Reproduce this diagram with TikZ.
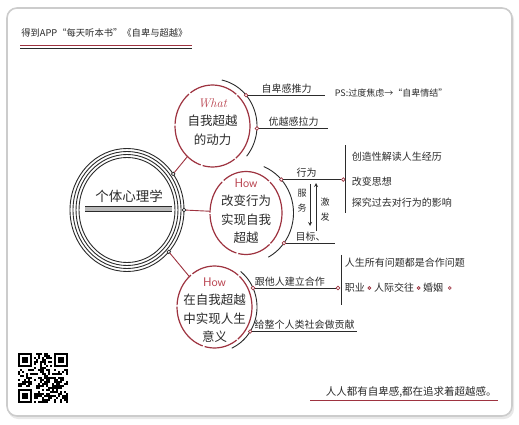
\documentclass[tikz,border=0pt]{standalone}
\usepackage{fontspec}
\newfontfamily\cjk{Noto Sans CJK SC}
\usetikzlibrary{arrows,positioning,shapes.geometric}
\definecolor{maroon}{HTML}{9E3340}
\definecolor{howred}{HTML}{B8404C}
\definecolor{ink}{HTML}{2B2B2B}
\tikzset{
  ring/.style={ellipse,draw=maroon,line width=1.2pt,dash pattern=on 34pt off 1.5pt on 50pt off 2pt,inner sep=0,outer sep=0},
  ringtext/.style={align=center,text=ink,font=\cjk\fontsize{12.5}{18.5}\selectfont},
  hubdot/.style={circle,draw=ink,fill=white,inner sep=0,minimum size=3.6pt,line width=0.7pt},
  knot/.style={circle,draw=maroon,fill=white,inner sep=0,minimum size=3.6pt,line width=0.7pt},
  dotred/.style={circle,draw=maroon,fill=maroon!25,inner sep=0,minimum size=3pt,line width=0.6pt},
  leaf/.style={font=\cjk\fontsize{10}{12}\selectfont,text=ink,inner sep=1.5pt},
  twig/.style={ink,line width=0.8pt},
  shell/.style={ink,line width=0.9pt}
}
\begin{document}
\begin{tikzpicture}[x=1pt,y=-1pt,semithick]
\useasboundingbox (0,0) rectangle (519,425);
\fill[gray!18,rounded corners=10pt] (8,10) rectangle (514,419);
\draw[gray!40,line width=1.6pt,fill=white,rounded corners=10pt] (7,8) rectangle (512,416);
\node[anchor=west,font=\cjk\fontsize{9.3}{10}\selectfont,text=ink,inner sep=0] (title) at (21,33) {得到APP“每天听本书”《自卑与超越》};
\draw[maroon,line width=1.4pt] (20,45.5)--(192,45.5);
\draw[ink,line width=0.8pt] (20,48.5)--(192,48.5);
\node[ellipse,minimum width=114pt,minimum height=123pt,inner sep=0,outer sep=0] (psy) at (127,210) {};
\foreach \a/\b in {57/61.5,54/58.5,51/55.5,48/52.5} \draw[shell] (psy.center) ellipse (\a pt and \b pt);
\node[font=\cjk\fontsize{13.5}{14}\selectfont,text=ink] (psyt) at (129,196) {个体心理学};
\fill[gray!55] (85,206) rectangle (172,211);
\draw[ink,line width=0.7pt] (85,206)--(172,206) (85,211)--(172,211);
\node[ring,minimum width=75pt,minimum height=82pt] (what) at (212.5,126) {};
\node[ringtext] (whatt) at (212.5,122) {{\rmfamily\itshape\color{howred}What}\\自我超越\\的动力};
\node[ring,minimum width=72pt,minimum height=83pt] (how) at (246,213) {};
\node[ringtext] (howt) at (246,211) {{\sffamily\color{howred}How}\\改变行为\\实现自我\\超越};
\node[ring,minimum width=75pt,minimum height=82pt] (mean) at (214.5,307) {};
\node[ringtext] (meant) at (214.5,310) {{\sffamily\color{howred}How}\\在自我超越\\中实现人生\\意义};
\draw[maroon,line width=0.9pt] (psy.38)--(what) (psy.0)--(how) (psy.-45)--(mean);
\node[hubdot] (c1) at (psy.38) {};
\node[hubdot] (c2) at (psy.0) {};
\node[hubdot] (c3) at (psy.-45) {};
\draw[shell,shift={(what.center)}] plot[domain=-40:78,samples=40,smooth] ({44.5*cos(\x)},{-47*sin(\x)});
\draw[shell,shift={(how.center)}] plot[domain=-62:68,samples=40,smooth] ({47.5*cos(\x)},{-50*sin(\x)});
\draw[shell,shift={(mean.center)}] plot[domain=-66:52,samples=40,smooth] ({42.5*cos(\x)},{-45*sin(\x)});
\node[knot] (w1) at ([shift={(41:44.5pt and 47pt)}]what.center) {};
\node[knot] (w2) at ([shift={(-3:44.5pt and 47pt)}]what.center) {};
\node[knot] (h1) at ([shift={(42:47.5pt and 50pt)}]how.center) {};
\node[knot] (h2) at ([shift={(-37:47.5pt and 50pt)}]how.center) {};
\node[knot] (m1) at ([shift={(25:42.5pt and 45pt)}]mean.center) {};
\node[knot] (m2) at ([shift={(-33:42.5pt and 45pt)}]mean.center) {};
\draw[twig] (w1) -- node[leaf,above]{自卑感推力} ++(79,0);
\draw[twig] (w2) -- node[leaf,above]{优越感拉力} ++(71,0);
\node[leaf,anchor=west,font=\cjk\fontsize{9}{10}\selectfont] (ps) at (333,93) {PS:过度焦虑→“自卑情结”};
\node[knot] (h0) at ([xshift=62pt]h1.center) {};
\draw[twig] (h1) -- node[leaf,above,pos=.4]{行为} (h0);
\draw[twig] ([xshift=2pt,yshift=34.5pt]h0.center) -- ([xshift=2pt,yshift=-33.5pt]h0.center);
\node[leaf,anchor=west] (h0a) at (350,157) {创造性解读人生经历};
\node[leaf,anchor=west] (h0b) at (350,182) {改变思想};
\node[leaf,anchor=west] (h0c) at (350,203) {探究过去对行为的影响};
\draw[twig] (h2) -- node[leaf,above]{目标、} ++(51,0);
\coordinate (s1) at (310,184);
\coordinate (s2) at (310,226);
\coordinate (s3) at (316,231);
\coordinate (s4) at (316,183);
\draw[twig,-stealth] (s1) -- (s2);
\draw[twig,-stealth] (s3) -- (s4);
\node[leaf,align=center,font=\cjk\fontsize{9}{15}\selectfont] (serve) at (302,200.5) {服\\务};
\node[leaf,align=center,font=\cjk\fontsize{9}{15}\selectfont] (spark) at (325,209.5) {激\\发};
\node[knot] (m0) at ([xshift=85pt]m1.center) {};
\draw[twig] (m1) -- node[leaf,above,pos=.43]{跟他人建立合作} (m0);
\draw[twig] ([xshift=3pt,yshift=33pt]m0.center) -- ([xshift=3pt,yshift=-17pt]m0.center);
\node[leaf,anchor=west] (m0a) at (343,263) {人生所有问题都是合作问题};
\node[leaf,anchor=west] (job) at (343,288) {职业};
\node[dotred,right=1pt of job] (d1) {};
\node[leaf,right=1pt of d1] (soc) {人际交往};
\node[dotred,right=1pt of soc] (d2) {};
\node[leaf,right=1pt of d2] (mar) {婚姻};
\node[dotred,right=3pt of mar] (d3) {};
\draw[twig] (m2) -- node[leaf,above]{给整个人类社会做贡献} ++(107,0);
\pgfmathsetseed{17}
\foreach \i in {0,...,24}{\foreach \j in {0,...,24}{
  \pgfmathsetmacro\q{rnd}
  \ifdim\q pt<0.5pt \fill[black] (18+2*\i,353+2*\j) rectangle ++(2,2);\fi}}
\foreach \fx/\fy in {18/353,52/353,18/387}{
  \fill[white] (\fx,\fy) rectangle ++(16,16);}
\foreach \fx/\fy in {18/353,54/353,18/389}{
  \fill[black] (\fx,\fy) rectangle ++(14,14);
  \fill[white] (\fx+2,\fy+2) rectangle ++(10,10);
  \fill[black] (\fx+4,\fy+4) rectangle ++(6,6);}
\node[anchor=east,font=\cjk\fontsize{10.5}{12}\selectfont,text=ink,inner sep=0] (motto) at (497,392) {人人都有自卑感,都在追求着超越感。};
\draw[maroon,line width=1pt] (310,400)--(498,400);
\end{tikzpicture}
\end{document}
